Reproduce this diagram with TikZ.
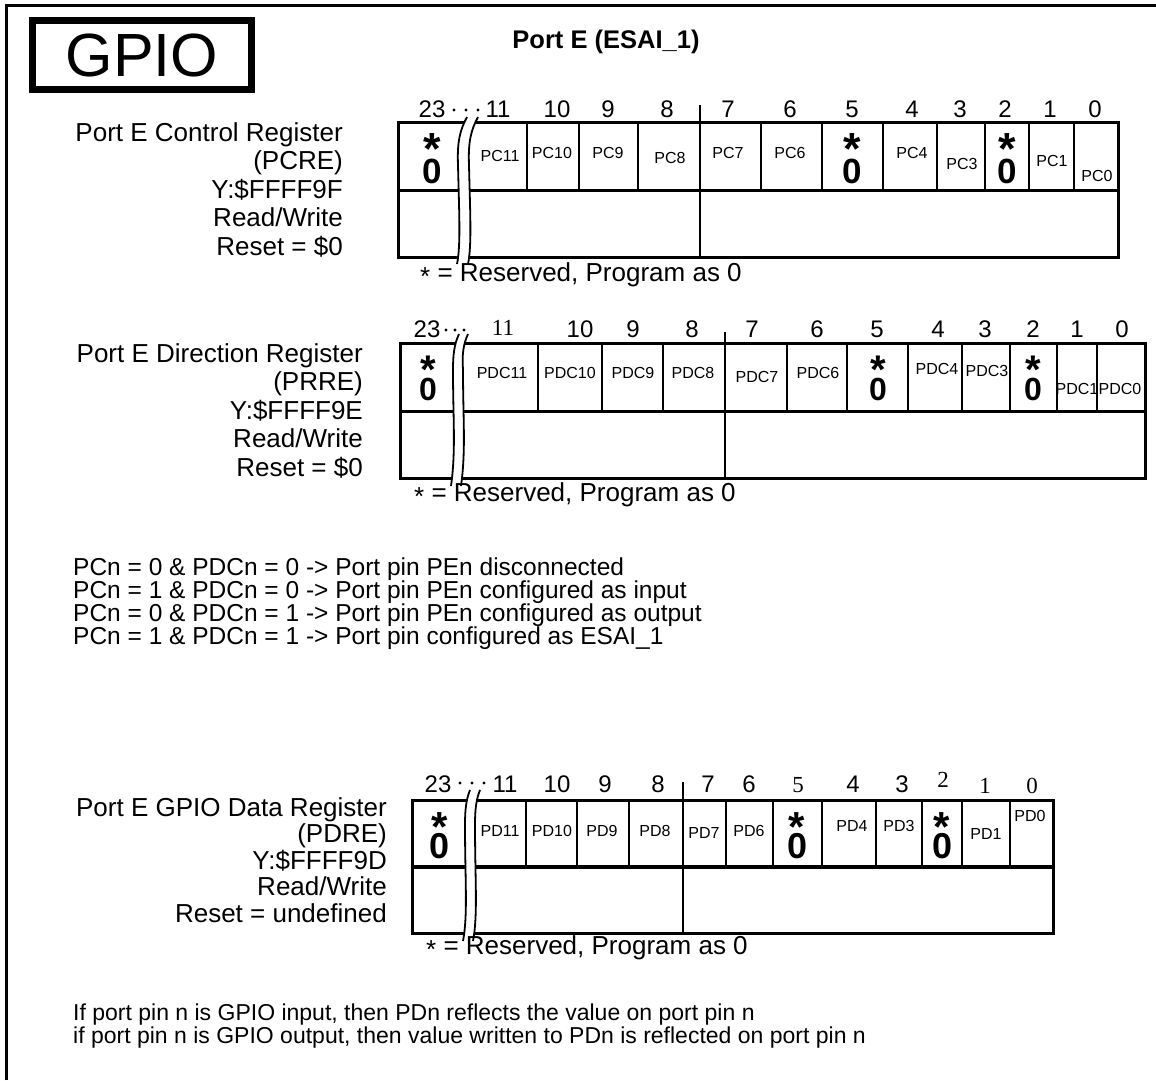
\documentclass[tikz,border=0pt]{standalone}
\usepackage{fontspec}
\setmainfont{Liberation Sans}
\newfontfamily\serifdigits{Liberation Serif}
\newcommand\lowstar{\raisebox{-0.17em}{*}}
\begin{document}
\begin{tikzpicture}[x=1pt,y=-1pt,
  lbl/.style={font=\fontsize{26}{28}\selectfont, inner sep=0pt},
  rlbl/.style={lbl, anchor=base east},
  llbl/.style={lbl, anchor=base west},
  rule/.style={font=\fontsize{24.5}{26}\selectfont, inner sep=0pt, anchor=base west},
  foot/.style={font=\fontsize{23}{25}\selectfont, inner sep=0pt, anchor=base west},
  num/.style={font=\fontsize{24}{26}\selectfont, inner sep=0pt, anchor=base},
  snum/.style={font=\serifdigits\fontsize{23}{25}\selectfont, inner sep=0pt, anchor=base},
  fld/.style={font=\fontsize{16}{18}\selectfont, inner sep=0pt, anchor=base},
  starA/.style={font=\bfseries\fontsize{45}{45}\selectfont, inner sep=0pt, anchor=base},
  zeroA/.style={font=\bfseries\fontsize{35}{35}\selectfont, inner sep=0pt, anchor=base},
  regbox/.style={line width=3pt},
  divline/.style={line width=2.5pt},
  brkline/.style={line width=1.8pt},
  dotmark/.style={fill=black}
]
\useasboundingbox (0,0) rectangle (1156,1080);
% outer frame
\draw[line width=3pt] (6.5,1080) -- (6.5,5.5) -- (1156,5.5);
% GPIO box
\node[draw, line width=7pt, minimum width=219pt, minimum height=69pt, inner sep=0pt,
      font=\fontsize{61}{61}\selectfont] (gpio) at (142,55) {GPIO};
\node[font=\bfseries\fontsize{25.5}{28}\selectfont, inner sep=0pt, anchor=base] (title) at (606,48) {Port E (ESAI\_1)};

%================ Register 1 : PCRE ================
\node[rlbl] (r1a) at (343,141) {Port E Control Register};
\node[rlbl] (r1b) at (343,169.5) {(PCRE)};
\node[rlbl] (r1c) at (343,198) {Y:\$FFFF9F};
\node[rlbl] (r1d) at (343,226.5) {Read/Write};
\node[rlbl] (r1e) at (343,255) {Reset = \$0};

\draw[regbox] (398,122) rectangle (1118,257);
\draw[regbox] (398,190) -- (1118,190);
\foreach \x in {527,579,638,761,822,883,937,985,1029,1074}
  \draw[divline] (\x,122) -- (\x,190);
\draw[divline] (700,105) -- (700,257);
% break
\fill[white] (467,117) .. controls (460,130) and (457,142) .. (458,165) .. controls (459,210) and (461,245) .. (457,264)
  -- (468,264) .. controls (472,245) and (470,210) .. (469,165) .. controls (468,142) and (471,130) .. (478,117) -- cycle;
\draw[brkline] (467,117) .. controls (460,130) and (457,142) .. (458,165) .. controls (459,210) and (461,245) .. (457,264);
\draw[brkline] (478,117) .. controls (471,130) and (468,142) .. (469,165) .. controls (470,210) and (472,245) .. (468,264);
\foreach \x in {454,466,478} \fill[dotmark] (\x,110) circle (1.6);
% bit numbers
\node[num] (r1n23) at (432,117) {23};
\foreach \x/\t in {498/11,557/10,608/9,667/8,728/7,790/6,852/5,912/4,960/3,1005/2,1050/1,1095/0}
  \node[num] (r1n\t) at (\x,117) {\t};
% fields
\foreach \x/\y/\t in {500/161/PC11,552/158/PC10,608/158/PC9,670/163/PC8,728/158/PC7,790/158/PC6,912/158/PC4,962/169/PC3,1052/166/PC1,1097/181/PC0}
  \node[fld] (r1\t) at (\x,\y) {\t};
\foreach \x/\k in {432/a,852/b,1007/c} {
  \node[starA] (r1s\k) at (\x,164) {*};
  \node[zeroA] (r1z\k) at (\x,183) {0};
}
\node[llbl] (r1res) at (420,281) {\lowstar{} = Reserved, Program as 0};

%================ Register 2 : PRRE ================
\node[rlbl] (r2a) at (363,362) {Port E Direction Register};
\node[rlbl] (r2b) at (363,390.5) {(PRRE)};
\node[rlbl] (r2c) at (363,419) {Y:\$FFFF9E};
\node[rlbl] (r2d) at (363,447.5) {Read/Write};
\node[rlbl] (r2e) at (363,476) {Reset = \$0};

\draw[regbox] (400,343) rectangle (1145,478);
\draw[regbox] (400,411) -- (1145,411);
\foreach \x in {538,602,663,787,847,908,962,1010,1057,1097}
  \draw[divline] (\x,343) -- (\x,411);
\draw[divline] (725,332) -- (725,478);
\fill[white] (459,334) .. controls (454,345) and (453,355) .. (453,370) .. controls (453,420) and (456,450) .. (451,486)
  -- (461,486) .. controls (466,450) and (463,420) .. (463,370) .. controls (462,355) and (463,345) .. (468,334) -- cycle;
\draw[brkline] (459,334) .. controls (454,345) and (453,355) .. (453,370) .. controls (453,420) and (456,450) .. (451,486);
\draw[brkline] (468,334) .. controls (463,345) and (462,355) .. (463,370) .. controls (463,420) and (466,450) .. (461,486);
\foreach \x in {446,455,464} \fill[dotmark] (\x,330) circle (1.6);
\node[num] (r2n23) at (427,337) {23};
\node[snum] (r2n11) at (503,335) {11};
\foreach \x/\t in {580/10,633/9,692/8,752/7,817/6,877/5,938/4,985/3,1033/2,1077/1,1122/0}
  \node[num] (r2n\t) at (\x,337) {\t};
\foreach \x/\y/\t in {502/378/PDC11,570/378/PDC10,633/378/PDC9,693/378/PDC8,757/382/PDC7,818/378/PDC6,937/374/PDC4,987/376/PDC3,1077/394/PDC1,1120/394/PDC0}
  \node[fld] (r2\t) at (\x,\y) {\t};
\foreach \x/\k in {428/a,878/b,1033/c} {
  \node[starA, font=\bfseries\fontsize{40}{40}\selectfont] (r2s\k) at (\x,383) {*};
  \node[zeroA, font=\bfseries\fontsize{32}{32}\selectfont] (r2z\k) at (\x,400) {0};
}
\node[llbl] (r2res) at (414,501) {\lowstar{} = Reserved, Program as 0};

%================ Rules ================
\node[rule] (rule1) at (73,575) {PCn = 0 \& PDCn = 0 -> Port pin PEn disconnected};
\node[rule] (rule2) at (73,598) {PCn = 1 \& PDCn = 0 -> Port pin PEn configured as input};
\node[rule] (rule3) at (73,621) {PCn = 0 \& PDCn = 1 -> Port pin PEn configured as output};
\node[rule] (rule4) at (73,644) {PCn = 1 \& PDCn = 1 -> Port pin configured as ESAI\_1};

%================ Register 3 : PDRE ================
\node[rlbl] (r3a) at (387,816) {Port E GPIO Data Register};
\node[rlbl] (r3b) at (387,842.5) {(PDRE)};
\node[rlbl] (r3c) at (387,869) {Y:\$FFFF9D};
\node[rlbl] (r3d) at (387,895.5) {Read/Write};
\node[rlbl] (r3e) at (387,922) {Reset = undefined};

\draw[regbox] (412,800) rectangle (1053,933);
\draw[line width=4pt] (412,867) -- (1053,867);
\foreach \x in {526,577,629,726,773,822,876,922,962,1010}
  \draw[divline] (\x,800) -- (\x,867);
\draw[divline] (683,782) -- (683,933);
\fill[white] (470,790) .. controls (466,800) and (465,810) .. (465,825) .. controls (465,880) and (468,915) .. (463,941)
  -- (473,941) .. controls (478,915) and (475,880) .. (475,825) .. controls (475,810) and (476,800) .. (480,790) -- cycle;
\draw[brkline] (470,790) .. controls (466,800) and (465,810) .. (465,825) .. controls (465,880) and (468,915) .. (463,941);
\draw[brkline] (480,790) .. controls (476,800) and (475,810) .. (475,825) .. controls (475,880) and (478,915) .. (473,941);
\foreach \x in {460,472,484} \fill[dotmark] (\x,783) circle (1.6);
\node[num] (r3n23) at (438,792) {23};
\foreach \x/\t in {505/11,557/10,605/9,658/8,708/7,749/6,853/4,902/3}
  \node[num] (r3n\t) at (\x,792) {\t};
\node[snum] (r3n5) at (798,792) {5};
\node[snum] (r3n2) at (943,787) {2};
\node[snum] (r3n1) at (985,793) {1};
\node[snum] (r3n0) at (1032,793) {0};
\foreach \x/\y/\t in {500/836/PD11,552/836/PD10,602/836/PD9,655/836/PD8,704/838/PD7,749/836/PD6,852/831/PD4,899/831/PD3,986/839/PD1,1030/821/PD0}
  \node[fld] (r3\t) at (\x,\y) {\t};
\foreach \x/\k in {440/a,797/b,942/c} {
  \node[starA, font=\bfseries\fontsize{42}{42}\selectfont] (r3s\k) at (\x,841) {*};
  \node[zeroA, font=\bfseries\fontsize{36}{36}\selectfont] (r3z\k) at (\x,858) {0};
}
\node[llbl] (r3res) at (426,954) {\lowstar{} = Reserved, Program as 0};

%================ Footer ================
\node[foot] (foot1) at (73,1020) {If port pin n is GPIO input, then PDn reflects the value on port pin n};
\node[foot] (foot2) at (73,1043) {if port pin n is GPIO output, then value written to PDn is reflected on port pin n};
\end{tikzpicture}
\end{document}
